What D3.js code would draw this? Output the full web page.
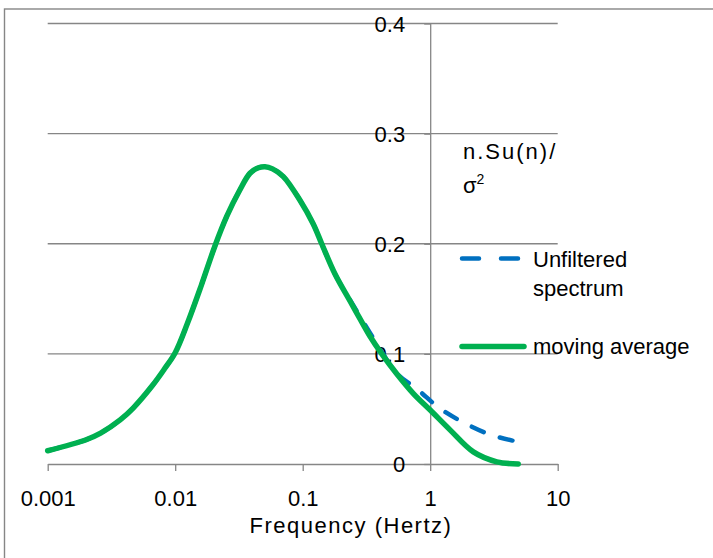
<!DOCTYPE html>
<html lang="en">
<head>
  <meta charset="UTF-8">
  <title>Spectrum</title>
  <style>
    body { margin: 0; background: #fff; }
    svg { display: block; }
    text { font-family: "Liberation Sans", Arial, sans-serif; fill: #000; }
  </style>
</head>
<body>
<div id="chart"></div>
<script src="https://d3js.org/d3.v7.min.js"></script>
<script>

// moving average (green)
const avgFreq = [0.001, 0.002, 0.0026, 0.0037, 0.0047, 0.0066, 0.0082, 0.01, 0.0125, 0.016,
  0.0205, 0.0254, 0.0322, 0.0386, 0.045, 0.0506, 0.058, 0.0705, 0.0952, 0.121,
  0.141, 0.18, 0.235, 0.281, 0.337, 0.417, 0.546, 0.738, 1.0, 1.43, 2.18, 3.33, 4.9];
const avgVal = [0.012, 0.022, 0.028, 0.040, 0.051, 0.071, 0.086, 0.101, 0.128, 0.162,
  0.198, 0.225, 0.249, 0.264, 0.269, 0.270, 0.268, 0.261, 0.2395, 0.218,
  0.200, 0.172, 0.148, 0.132, 0.116, 0.100, 0.082, 0.064, 0.049, 0.031, 0.011, 0.002, 0.0];

// unfiltered spectrum (blue dashed), mostly hidden under the green line
const rawFreq = [0.001, 0.002, 0.0026, 0.0037, 0.0047, 0.0066, 0.0082, 0.01, 0.0125, 0.016,
  0.0205, 0.0254, 0.0322, 0.0386, 0.045, 0.0506, 0.058, 0.0705, 0.0952, 0.121,
  0.141, 0.18, 0.235, 0.281, 0.337, 0.417, 0.53, 0.807, 1.19, 1.88, 3.03, 4.86];
const rawVal = [0.012, 0.022, 0.028, 0.040, 0.051, 0.071, 0.086, 0.101, 0.128, 0.162,
  0.198, 0.225, 0.249, 0.264, 0.269, 0.270, 0.268, 0.261, 0.2395, 0.218,
  0.200, 0.172, 0.149, 0.134, 0.119, 0.102, 0.0837, 0.067, 0.0505, 0.0369, 0.0263, 0.0202];

const xTicks = [0.001, 0.01, 0.1, 1, 10];
const xTickLabels = ["0.001", "0.01", "0.1", "1", "10"];
const yTicks = [0, 0.1, 0.2, 0.3, 0.4];
const yTickLabels = ["0", "0.1", "0.2", "0.3", "0.4"];

const W = 713, H = 558;
const gridCol = "#868686";

const svg = d3.select("#chart").append("svg")
  .attr("width", W).attr("height", H);

// outer chart border (right/bottom edges fall outside the picture)
svg.append("rect")
  .attr("x", 4.5).attr("y", 9)
  .attr("width", 900).attr("height", 900)
  .attr("fill", "none")
  .attr("stroke", gridCol)
  .attr("stroke-width", 1.4);

const x = d3.scaleLog().domain([0.001, 10]).range([47.7, 557.7]);
const y = d3.scaleLinear().domain([0, 0.4]).range([464, 23.5]);

// gridlines
svg.append("g").selectAll("line")
  .data(yTicks.slice(1))
  .enter().append("line")
  .attr("x1", x(0.001)).attr("x2", x(10))
  .attr("y1", d => y(d)).attr("y2", d => y(d))
  .attr("stroke", gridCol).attr("stroke-width", 1.3);

// x axis (ticks down)
const xAxis = svg.append("g")
  .attr("transform", `translate(0,${y(0)})`)
  .call(d3.axisBottom(x).tickValues(xTicks).tickSize(7).tickSizeOuter(0)
    .tickFormat((d, i) => xTickLabels[i]));
xAxis.select(".domain").attr("stroke", gridCol).attr("stroke-width", 1.3);
xAxis.selectAll(".tick line").attr("stroke", gridCol).attr("stroke-width", 1.3);
xAxis.selectAll(".tick text")
  .attr("y", 0).attr("dy", 0)
  .attr("transform", "translate(0,42)")
  .style("font-size", "22px")
  .style("font-family", "'Liberation Sans', Arial, sans-serif")
  .attr("fill", "#000");

// y axis crossing at 1 Hz
const yAxis = svg.append("g")
  .attr("transform", `translate(${x(1)},0)`)
  .call(d3.axisLeft(y).tickValues(yTicks).tickSize(6).tickSizeOuter(0)
    .tickFormat((d, i) => yTickLabels[i]));
yAxis.select(".domain").attr("stroke", gridCol).attr("stroke-width", 1.3);
yAxis.selectAll(".tick line").attr("stroke", gridCol).attr("stroke-width", 1.3);
yAxis.selectAll(".tick text")
  .attr("x", -25).attr("dy", "0.36em")
  .style("font-size", "22px")
  .style("font-family", "'Liberation Sans', Arial, sans-serif")
  .attr("fill", "#000");

// x axis title
svg.append("text")
  .attr("x", 351).attr("y", 533)
  .attr("text-anchor", "middle")
  .style("font-size", "22px")
  .style("letter-spacing", "1.5px")
  .text("Frequency (Hertz)");

// series
const line = d3.line()
  .x(d => x(d[0]))
  .y(d => y(d[1]))
  .curve(d3.curveCatmullRom.alpha(0.5));

const rawData = rawFreq.map((f, i) => [f, rawVal[i]]);
const avgData = avgFreq.map((f, i) => [f, avgVal[i]]);

svg.append("path")
  .datum(rawData)
  .attr("d", line)
  .attr("fill", "none")
  .attr("stroke", "#0070C0")
  .attr("stroke-width", 4.5)
  .attr("stroke-linecap", "round")
  .attr("stroke-dasharray", "13,17");

svg.append("path")
  .datum(avgData)
  .attr("d", line)
  .attr("fill", "none")
  .attr("stroke", "#00B050")
  .attr("stroke-width", 5.5)
  .attr("stroke-linecap", "round")
  .attr("stroke-linejoin", "round");

// legend / y title
const lg = svg.append("g");
lg.append("text")
  .attr("x", 463).attr("y", 159)
  .style("font-size", "22px")
  .style("letter-spacing", "2px")
  .text("n.Su(n)/");
const sig = lg.append("text")
  .attr("x", 463).attr("y", 193)
  .style("font-size", "22px");
sig.append("tspan").text("σ");
sig.append("tspan").attr("dy", -9).style("font-size", "14px").text("2");

lg.append("line")
  .attr("x1", 462).attr("x2", 519)
  .attr("y1", 258.5).attr("y2", 258.5)
  .attr("stroke", "#0070C0").attr("stroke-width", 4.5)
  .attr("stroke-linecap", "round")
  .attr("stroke-dasharray", "17,22");
lg.append("text").attr("x", 533).attr("y", 267)
  .style("font-size", "22px").text("Unfiltered");
lg.append("text").attr("x", 533).attr("y", 296)
  .style("font-size", "22px").text("spectrum");

lg.append("line")
  .attr("x1", 462).attr("x2", 524)
  .attr("y1", 346.5).attr("y2", 346.5)
  .attr("stroke", "#00B050").attr("stroke-width", 5.5)
  .attr("stroke-linecap", "round");
lg.append("text").attr("x", 533).attr("y", 354)
  .style("font-size", "22px").text("moving average");

</script>
</body>
</html>
